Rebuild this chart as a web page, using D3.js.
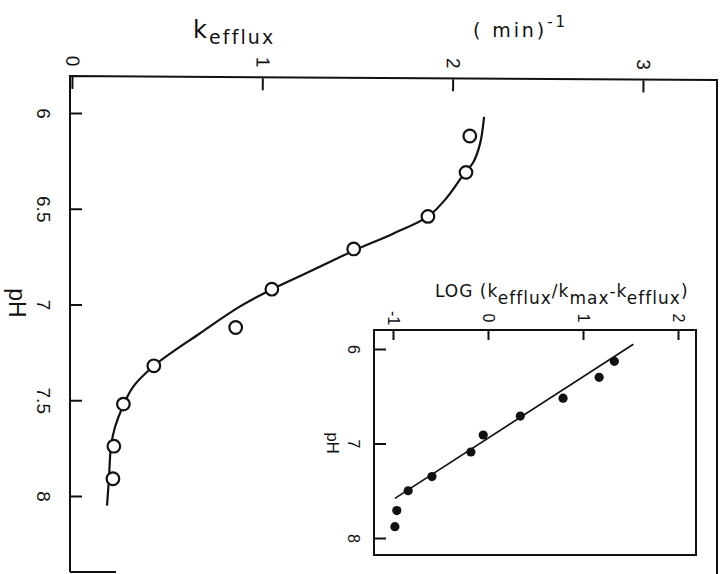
<!DOCTYPE html>
<html>
<head>
<meta charset="utf-8">
<script src="https://cdn.jsdelivr.net/npm/d3@7/dist/d3.min.js"></script>
<style>
  html, body { margin: 0; padding: 0; background: #fff; }
  svg { display: block; font-family: "Liberation Sans", Arial, sans-serif; }
  .title { font-family: "DejaVu Sans", sans-serif; fill: #111; }
  .frame { fill: none; stroke: #111; stroke-width: 2; }
  .tick line { stroke: #111; stroke-width: 2; }
  .tick text { fill: #111; }
</style>
</head>
<body>
<svg id="chart" width="726" height="574"></svg>
<script>
// Efflux rate constant versus pH (open circles) with the fitted titration curve
const mainPH = [6.12, 6.31, 6.54, 6.71, 6.92, 7.12, 7.32, 7.52, 7.74, 7.91];
const mainK  = [2.09, 2.07, 1.87, 1.48, 1.05, 0.86, 0.43, 0.27, 0.22, 0.215];

// Smooth fitted curve, sampled along pH
const fitPH = [6.02, 6.16, 6.26, 6.31, 6.44, 6.54, 6.63, 6.72, 6.82, 6.92, 7.01, 7.15, 7.32, 7.43, 7.53, 7.64, 7.74, 7.91, 8.05];
const fitK  = [2.165, 2.144, 2.107, 2.065, 1.971, 1.871, 1.687, 1.477, 1.266, 1.051, 0.883, 0.673, 0.431, 0.321, 0.268, 0.226, 0.205, 0.194, 0.184];

// Inset: log(k / (kmax - k)) versus pH (filled dots) with the linear fit
const insetPH  = [6.13, 6.30, 6.52, 6.71, 6.91, 7.09, 7.35, 7.50, 7.71, 7.88];
const insetLog = [1.33, 1.17, 0.79, 0.34, -0.05, -0.18, -0.59, -0.84, -0.96, -0.98];
const insetFitLog = [-0.98, 1.53];
const insetFitPH  = [7.58, 5.95];

// Tick values and labels
const kTicks = [0, 1, 2, 3];
const phTicks = [6, 6.5, 7, 7.5, 8];
const phTickLabels = ["6", "6.5", "7", "7.5", "8"];
const logTicks = [-1, 0, 1, 2];
const insetPhTicks = [6, 7, 8];

const svg = d3.select("#chart");
svg.append("rect").attr("width", 726).attr("height", 574).attr("fill", "#fff");

// spread a title's letters so that it spans the given width
function spreadTo(sel, width) {
  const node = sel.node();
  const w = node.getComputedTextLength();
  const n = node.textContent.length;
  if (n > 1 && w > 0 && width > w) sel.style("letter-spacing", ((width - w) / (n - 1)) + "px");
}

// ---------- main panel ----------
const x = d3.scaleLinear().domain([0, 3]).range([72, 643]);
const y = d3.scaleLinear().domain([6, 8]).range([113, 496]);

// frame (left, top, right, short bottom stub)
svg.append("path").attr("class", "frame")
  .attr("d", "M70,572 L70,76 L717,80 L717,574");
svg.append("path").attr("class", "frame").attr("d", "M70,572 L116,572");

// top axis: k efflux
const topAxis = svg.append("g")
  .attr("transform", "translate(0,77) rotate(0.35 70 0)")
  .call(d3.axisTop(x).tickValues(kTicks).tickSize(-12).tickFormat(d3.format("d")));
topAxis.select(".domain").remove();
topAxis.selectAll(".tick text")
  .attr("y", null).attr("dy", null)
  .attr("transform", "translate(0,-16) rotate(90)")
  .attr("text-anchor", "middle")
  .attr("dominant-baseline", "central")
  .style("font-size", "19px");

// left axis: pH
const leftAxis = svg.append("g")
  .attr("transform", "translate(70,0)")
  .call(d3.axisLeft(y).tickValues(phTicks).tickSize(-12).tickFormat((d, i) => phTickLabels[i]));
leftAxis.select(".domain").remove();
leftAxis.selectAll(".tick text")
  .attr("x", null).attr("dy", null)
  .attr("transform", "translate(-27,0) rotate(90)")
  .attr("text-anchor", "middle")
  .attr("dominant-baseline", "central")
  .style("font-size", "19px");

// axis titles
const kTitle = svg.append("text").attr("class", "title").attr("x", 193).attr("y", 38).style("font-size", "24px");
kTitle.append("tspan").text("k");
kTitle.append("tspan").attr("dy", 6).style("font-size", "19px").text("efflux");
spreadTo(kTitle, 80);

const unitTitle = svg.append("text").attr("class", "title").attr("x", 473).attr("y", 37).style("font-size", "19px");
unitTitle.append("tspan").text("( min)");
unitTitle.append("tspan").attr("dy", -10).style("font-size", "15px").text("-1");
spreadTo(unitTitle, 92);

svg.append("text")
  .attr("transform", "translate(17,303) rotate(90)")
  .attr("text-anchor", "middle").attr("dominant-baseline", "central")
  .style("font-size", "23px").attr("fill", "#111").text("pH");

// fitted curve
const fitPts = fitPH.map((p, i) => [fitK[i], p]);
svg.append("path")
  .datum(fitPts)
  .attr("fill", "none").attr("stroke", "#111").attr("stroke-width", 2.2)
  .attr("d", d3.line().x(d => x(d[0])).y(d => y(d[1])).curve(d3.curveCatmullRom));

// open circles
svg.append("g").selectAll("circle")
  .data(mainPH.map((p, i) => [mainK[i], p]))
  .join("circle")
  .attr("cx", d => x(d[0])).attr("cy", d => y(d[1])).attr("r", 6.3)
  .attr("fill", "#fff").attr("stroke", "#111").attr("stroke-width", 2.2);

// ---------- inset panel ----------
const xi = d3.scaleLinear().domain([-1, 2]).range([393, 678]);
const yi = d3.scaleLinear().domain([6, 8]).range([349, 538]);

svg.append("rect").attr("class", "frame")
  .attr("x", 374).attr("y", 330).attr("width", 322).attr("height", 225);

const iTop = svg.append("g")
  .attr("transform", "translate(0,330)")
  .call(d3.axisTop(xi).tickValues(logTicks).tickSize(-10).tickFormat(d => d < 0 ? "-" + Math.abs(d) : String(d)));
iTop.select(".domain").remove();
iTop.selectAll(".tick text")
  .attr("y", null).attr("dy", null)
  .attr("transform", "translate(0,-12) rotate(90)")
  .attr("text-anchor", "middle").attr("dominant-baseline", "central")
  .style("font-size", "16px");

const iLeft = svg.append("g")
  .attr("transform", "translate(374,0)")
  .call(d3.axisLeft(yi).tickValues(insetPhTicks).tickSize(-12).tickFormat(d3.format("d")));
iLeft.select(".domain").remove();
iLeft.selectAll(".tick text")
  .attr("x", null).attr("dy", null)
  .attr("transform", "translate(-21,0) rotate(90)")
  .attr("text-anchor", "middle").attr("dominant-baseline", "central")
  .style("font-size", "16px");

svg.append("text")
  .attr("transform", "translate(332,443) rotate(90)")
  .attr("text-anchor", "middle").attr("dominant-baseline", "central")
  .style("font-size", "17px").attr("fill", "#111").text("pH");

// inset title: LOG (k_efflux / k_max - k_efflux)
const logTitle = svg.append("text").attr("class", "title").attr("x", 435).attr("y", 297).style("font-size", "17px");
logTitle.append("tspan").text("LOG (k");
logTitle.append("tspan").attr("dy", 7).text("efflux");
logTitle.append("tspan").attr("dy", -7).text("/k");
logTitle.append("tspan").attr("dy", 7).text("max");
logTitle.append("tspan").attr("dy", -7).text("-k");
logTitle.append("tspan").attr("dy", 7).text("efflux");
logTitle.append("tspan").attr("dy", -7).text(")");
spreadTo(logTitle, 252);

// linear fit
svg.append("path")
  .datum(insetFitLog.map((v, i) => [v, insetFitPH[i]]))
  .attr("fill", "none").attr("stroke", "#111").attr("stroke-width", 1.6)
  .attr("d", d3.line().x(d => xi(d[0])).y(d => yi(d[1])));

// filled dots
svg.append("g").selectAll("circle")
  .data(insetPH.map((p, i) => [insetLog[i], p]))
  .join("circle")
  .attr("cx", d => xi(d[0])).attr("cy", d => yi(d[1])).attr("r", 4.6)
  .attr("fill", "#111");
</script>
</body>
</html>
